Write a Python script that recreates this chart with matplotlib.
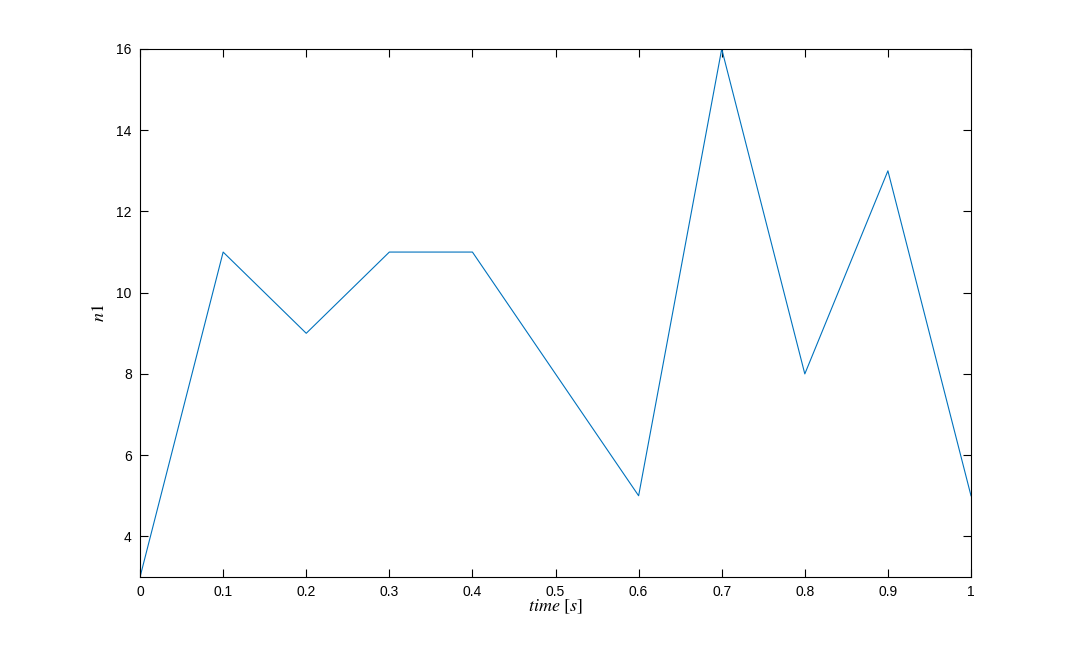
import matplotlib
matplotlib.use("Agg")
import matplotlib.pyplot as plt

plt.rcParams['font.family'] = ['Liberation Sans', 'DejaVu Sans']
plt.rcParams['mathtext.fontset'] = 'stix'

t = [0, 0.1, 0.2, 0.3, 0.4, 0.5, 0.6, 0.7, 0.8, 0.9, 1.0]
n1 = [3, 11, 9, 11, 11, 8, 5, 16, 8, 13, 5]
xticks = [0, 0.1, 0.2, 0.3, 0.4, 0.5, 0.6, 0.7, 0.8, 0.9, 1]
xticklabels = ['0', '0.1', '0.2', '0.3', '0.4', '0.5', '0.6', '0.7', '0.8', '0.9', '1']
yticks = [4, 6, 8, 10, 12, 14, 16]

fig = plt.figure(figsize=(10.74, 6.48), dpi=100)
ax = fig.add_axes([0.1304, 0.1096, 0.7737, 0.8148])
ax.plot(t, n1, color='#0072BD', linewidth=0.8)

ax.set_xlim(0, 1)
ax.set_ylim(3, 16)
ax.set_xticks(xticks)
ax.set_xticklabels(xticklabels)
ax.set_yticks(yticks)
ax.tick_params(direction='in', top=True, right=True, length=6, width=0.8,
               labelsize=10, pad=6, colors='black')
for s in ax.spines.values():
    s.set_linewidth(0.8)

ax.set_xlabel(r'$time\ [s]$', fontsize=13, labelpad=-1)
ax.set_ylabel(r'$n1$', fontsize=13, labelpad=6)

fig.savefig('out.png', dpi=100)
